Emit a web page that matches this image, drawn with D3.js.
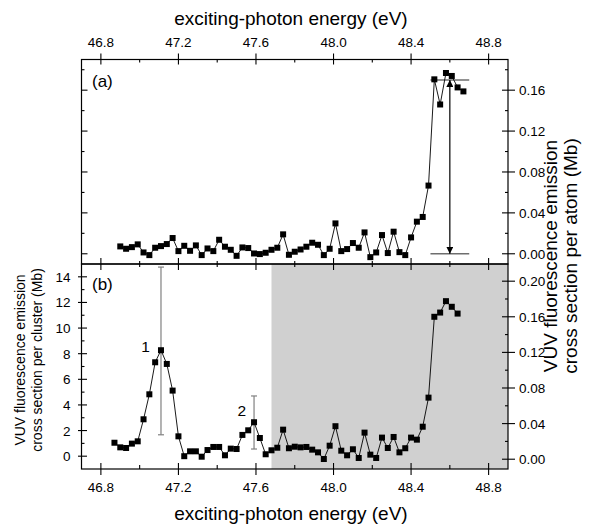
<!DOCTYPE html>
<html>
<head>
<meta charset="utf-8">
<script src="https://cdn.jsdelivr.net/npm/d3@7"></script>
<style>
   body { margin: 0; background: #fff; }
   svg { font-family: Arial, "Liberation Sans", sans-serif; }
</style>
</head>
<body>
<div id="content"></div>
<script>
// panel (a): cross section per atom
const topEnergy = [46.90,46.93,46.96,46.99,47.02,47.05,47.08,47.11,47.14,47.17,
   47.20,47.23,47.26,47.29,47.32,47.35,47.38,47.41,47.44,47.47,
   47.50,47.53,47.56,47.59,47.62,47.65,47.68,47.71,47.74,47.77,
   47.80,47.83,47.86,47.89,47.92,47.95,47.98,48.01,48.04,48.07,
   48.10,48.13,48.16,48.19,48.22,48.25,48.28,48.31,48.34,48.37,
   48.40,48.43,48.46,48.49,48.52,48.55,48.58,48.61,48.64,48.67]
const topCross = [0.0072,0.0049,0.0065,0.0092,0.0013,-0.0013,0.0059,0.0075,0.0095,0.0154,
   0.0026,0.0078,0.0029,0.0082,-0.0013,0.0052,0.0026,0.0137,0.0069,0.0039,
   -0.0020,0.0062,0.0056,0.0003,-0.0003,0.0010,0.0039,0.0059,0.0190,-0.0010,
   0.0020,0.0042,0.0069,0.0108,0.0088,-0.0013,0.0049,0.0297,0.0026,0.0046,
   0.0105,0.0059,0.0209,-0.0033,0.0013,0.0183,0.0007,0.0216,0.0016,-0.0013,
   0.0160,0.0314,0.0360,0.0667,0.1706,0.1460,0.1768,0.1739,0.1627,0.1588]

// panel (b): cross section per cluster
const bottomEnergy = [46.87,46.90,46.93,46.96,46.99,47.02,47.05,47.08,47.11,47.14,
   47.17,47.20,47.23,47.26,47.29,47.32,47.35,47.38,47.41,47.44,
   47.47,47.50,47.53,47.56,47.59,47.62,47.65,47.68,47.71,47.74,
   47.77,47.80,47.83,47.86,47.89,47.92,47.95,47.98,48.01,48.04,
   48.07,48.10,48.13,48.16,48.19,48.22,48.25,48.28,48.31,48.34,
   48.37,48.40,48.43,48.46,48.49,48.52,48.55,48.58,48.61,48.64]
const bottomCross = [1.05,0.69,0.64,0.98,1.16,2.88,4.83,7.33,8.27,7.20,
   5.12,1.55,0.00,0.38,0.38,-0.04,0.48,0.72,0.72,0.07,
   0.59,0.56,1.66,2.02,2.65,1.42,0.15,0.46,0.66,2.07,
   0.62,0.74,0.69,0.72,0.51,0.30,-0.22,0.82,2.34,0.43,
   0.07,0.54,-0.14,1.84,0.12,-0.14,1.45,0.64,1.50,0.30,
   0.62,1.45,1.29,2.30,4.57,10.88,11.21,12.10,11.66,11.13]

const errEnergy = [47.11, 47.59]
const errLow = [1.67, 0.56]
const errHigh = [14.76, 4.70]

const peakNames = ["1", "2"]
const peakEnergy = [47.03, 47.527]
const peakCross = [8.1, 3.1]

const levelLines = [0, 0.17]
const levelSpan = [48.5, 48.7]
const arrowEnergy = 48.6
const shadeStart = 47.68

const energyTicks = [46.8, 47.2, 47.6, 48.0, 48.4, 48.8]
const energyMinor = [47.0, 47.4, 47.8, 48.2, 48.6]
const atomTicksTop = [0, 0.04, 0.08, 0.12, 0.16]
const atomMinorTop = [0.02, 0.06, 0.10, 0.14, 0.18]
const atomTicksBottom = [0, 0.04, 0.08, 0.12, 0.16, 0.20]
const atomMinorBottom = [0.02, 0.06, 0.10, 0.14, 0.18]
const clusterTicks = [0, 2, 4, 6, 8, 10, 12, 14]
const clusterMinor = [1, 3, 5, 7, 9, 11, 13]

const xTitle = "exciting-photon energy (eV)"
const rightTitle = ["VUV fluorescence emission", "cross section per atom (Mb)"]
const leftTitle = ["VUV fluorescence emission", "cross section per cluster (Mb)"]

const width = 597, height = 525
const L = 81.5, R = 508, T = 59.5, M = 264, B = 469

const x = d3.scaleLinear().domain([46.7, 48.9]).range([L, R])
const yTop = d3.scaleLinear().domain([-0.01, 0.19]).range([M, T])
const yBot = d3.scaleLinear().domain([-1, 15]).range([B, M])
const yBotRight = d3.scaleLinear().domain([-0.011, 0.2193]).range([B, M])

const svg = d3.select('#content').append('svg')
   .attr('width', width)
   .attr('height', height)

// shaded region of panel (b)
svg.append('rect')
   .attr('x', x(shadeStart)).attr('y', M)
   .attr('width', R - x(shadeStart)).attr('height', B - M)
   .attr('fill', '#d0d0d0')

const axes = svg.append('g').attr('stroke', '#000').attr('stroke-width', 1.1)

// horizontal axis ticks, dir = +1 means inside is downward
const hTicks = (vals, y0, dir, inLen, outLen) => {
   axes.append('g').selectAll('line').data(vals).enter().append('line')
      .attr('x1', d => x(d)).attr('x2', d => x(d))
      .attr('y1', y0 - dir * outLen).attr('y2', y0 + dir * inLen)
}
// vertical axis ticks, dir = +1 means inside is to the right
const vTicks = (vals, scale, x0, dir, inLen, outLen) => {
   axes.append('g').selectAll('line').data(vals).enter().append('line')
      .attr('y1', d => scale(d)).attr('y2', d => scale(d))
      .attr('x1', x0 - dir * outLen).attr('x2', x0 + dir * inLen)
}

// top panel
hTicks(energyTicks, T, 1, 5, 6)
hTicks(energyMinor, T, 1, 3, 0)
hTicks(energyTicks, M, -1, 6, 0)
hTicks(energyMinor, M, -1, 3, 0)
vTicks(atomTicksTop, yTop, L, 1, 6, 0)
vTicks(atomMinorTop, yTop, L, 1, 3, 0)
vTicks(atomTicksTop, yTop, R, -1, 6, 7)
vTicks(atomMinorTop, yTop, R, -1, 3, 0)

// bottom panel
hTicks(energyTicks, M, 1, 6, 0)
hTicks(energyMinor, M, 1, 3, 0)
hTicks(energyTicks, B, -1, 6, 6)
hTicks(energyMinor, B, -1, 4, 0)
vTicks(clusterTicks, yBot, L, 1, 5.5, 3.5)
vTicks(clusterMinor, yBot, L, 1, 3, 0)
vTicks(atomTicksBottom, yBotRight, R, -1, 6, 7)
vTicks(atomMinorBottom, yBotRight, R, -1, 3, 0)

// frames
svg.append('rect').attr('x', L).attr('y', T).attr('width', R - L).attr('height', M - T)
   .attr('fill', 'none').attr('stroke', '#000').attr('stroke-width', 1.2)
svg.append('rect').attr('x', L).attr('y', M).attr('width', R - L).attr('height', B - M)
   .attr('fill', 'none').attr('stroke', '#000').attr('stroke-width', 1.2)

// tick labels
const labels = svg.append('g').attr('font-size', 13.5).attr('fill', '#000')
const fmt2 = d3.format('.2f'), fmt1 = d3.format('.1f')
labels.append('g').selectAll('text').data(energyTicks).enter().append('text')
   .attr('x', d => x(d)).attr('y', 46.5).attr('text-anchor', 'middle').text(fmt1)
labels.append('g').selectAll('text').data(energyTicks).enter().append('text')
   .attr('x', d => x(d)).attr('y', 492).attr('text-anchor', 'middle').text(fmt1)
labels.append('g').selectAll('text').data(atomTicksTop).enter().append('text')
   .attr('x', 519).attr('y', d => yTop(d) + 5).text(fmt2)
labels.append('g').selectAll('text').data(atomTicksBottom).enter().append('text')
   .attr('x', 519).attr('y', d => yBotRight(d) + 5).text(fmt2)
labels.append('g').selectAll('text').data(clusterTicks).enter().append('text')
   .attr('x', 70.5).attr('y', d => yBot(d) + 5).attr('text-anchor', 'end').text(d => d)

// axis titles
svg.append('text').attr('x', 291).attr('y', 24.5).attr('text-anchor', 'middle')
   .attr('font-size', 19).text(xTitle)
svg.append('text').attr('x', 291).attr('y', 519.5).attr('text-anchor', 'middle')
   .attr('font-size', 19).text(xTitle)
rightTitle.forEach((t, i) => {
   const cx = 557 + i * 19.5
   svg.append('text').attr('transform', `translate(${cx},256) rotate(-90)`)
      .attr('text-anchor', 'middle').attr('font-size', 19).text(t)
})
leftTitle.forEach((t, i) => {
   const cx = 25 + i * 17
   svg.append('text').attr('transform', `translate(${cx},360) rotate(-90)`)
      .attr('text-anchor', 'middle').attr('font-size', 14).text(t)
})

// panel letters
svg.append('text').attr('x', 92).attr('y', 87).attr('font-size', 17).text('(a)')
svg.append('text').attr('x', 92).attr('y', 290).attr('font-size', 17).text('(b)')

// reference levels and arrow in (a)
svg.append('g').selectAll('line').data(levelLines).enter().append('line')
   .attr('x1', x(levelSpan[0])).attr('x2', x(levelSpan[1]))
   .attr('y1', d => yTop(d)).attr('y2', d => yTop(d))
   .attr('stroke', '#6e6e6e').attr('stroke-width', 1.6)

const defs = svg.append('defs')
defs.append('marker').attr('id', 'head')
   .attr('viewBox', '0 0 10 10').attr('refX', 10).attr('refY', 5)
   .attr('markerWidth', 7).attr('markerHeight', 7).attr('markerUnits', 'userSpaceOnUse')
   .attr('orient', 'auto-start-reverse')
   .append('path').attr('d', 'M0,0L10,5L0,10Z').attr('fill', '#000')

svg.append('line')
   .attr('x1', x(arrowEnergy)).attr('x2', x(arrowEnergy))
   .attr('y1', yTop(levelLines[1])).attr('y2', yTop(levelLines[0]))
   .attr('stroke', '#000').attr('stroke-width', 1.2)
   .attr('marker-start', 'url(#head)').attr('marker-end', 'url(#head)')

// error bars in (b)
const errG = svg.append('g').attr('stroke', '#808080').attr('stroke-width', 1.2)
errEnergy.forEach((e, i) => {
   errG.append('line').attr('x1', x(e)).attr('x2', x(e))
      .attr('y1', yBot(errLow[i])).attr('y2', yBot(errHigh[i]))
   ;[errLow[i], errHigh[i]].forEach(v => {
      errG.append('line').attr('x1', x(e) - 3).attr('x2', x(e) + 3)
         .attr('y1', yBot(v)).attr('y2', yBot(v))
   })
})

// data lines and markers
const drawSeries = (xs, ys, yScale) => {
   const pts = xs.map((e, i) => [e, ys[i]])
   const line = d3.line().x(d => x(d[0])).y(d => yScale(d[1]))
   svg.append('path').attr('d', line(pts))
      .attr('fill', 'none').attr('stroke', '#000').attr('stroke-width', 0.9)
   svg.append('g').selectAll('rect').data(pts).enter().append('rect')
      .attr('x', d => x(d[0]) - 3).attr('y', d => yScale(d[1]) - 3)
      .attr('width', 6).attr('height', 6).attr('fill', '#000')
}
drawSeries(topEnergy, topCross, yTop)
drawSeries(bottomEnergy, bottomCross, yBot)

// peak labels
svg.append('g').selectAll('text').data(peakNames).enter().append('text')
   .attr('x', (d, i) => x(peakEnergy[i])).attr('y', (d, i) => yBot(peakCross[i]))
   .attr('text-anchor', 'middle').attr('font-size', 15.5).text(d => d)
</script>
</body>
</html>
